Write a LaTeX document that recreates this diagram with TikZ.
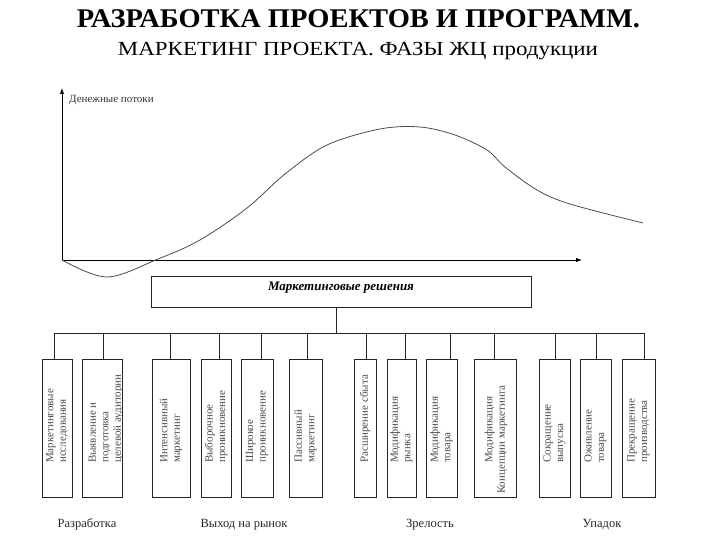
\documentclass[tikz,border=0pt]{standalone}
\usepackage{fontspec}
\setmainfont{Liberation Serif}
\usetikzlibrary{arrows.meta}
\begin{document}
\begin{tikzpicture}[x=1pt,y=-1pt,
  ax/.style={line width=0.9pt,-{Latex[length=6pt,width=4.5pt]}},
  curveline/.style={black!70,line width=0.8pt},
  stagebox/.style={draw=black!85,line width=0.9pt,minimum height=138pt,inner sep=0pt},
  stagetext/.style={rotate=90,anchor=west,inner sep=0pt,align=left,text=black!70,font=\fontsize{11}{12.5}\selectfont},
  phase/.style={anchor=base,text=black!85,font=\fontsize{12.5}{14}\selectfont},
  wire/.style={draw=black!85,line width=0.9pt}
]
\useasboundingbox (0,0) rectangle (720,540);

% title
\node[anchor=base,inner sep=0pt] (t1) at (358.5,28)
  {\resizebox{563pt}{\height}{\fontsize{27}{30}\selectfont\bfseries РАЗРАБОТКА ПРОЕКТОВ И ПРОГРАММ.}};
\node[anchor=base,inner sep=0pt] (t2) at (358,56)
  {\resizebox{480pt}{\height}{\fontsize{20}{24}\selectfont МАРКЕТИНГ ПРОЕКТА. ФАЗЫ ЖЦ продукции}};

% axes
\coordinate (O) at (62,260);
\coordinate (ytop) at (62,88);
\coordinate (xend) at (582,260);
\draw[ax] (O) -- (ytop);
\draw[ax] (O) -- (xend);
\node[anchor=base west,inner sep=0pt,text=black!80,font=\fontsize{11}{13}\selectfont] (ylab) at (69,103) {Денежные потоки};

% cash flow curve
\draw[curveline] plot[smooth,tension=0.55] coordinates {
  (62,260) (107,277) (158,259) (200,240) (247,208) (285,174)
  (327,145) (380,129) (420,127) (455,135) (487,150) (505,167)
  (537,190) (570,204) (643,223)};

% marketing decisions
\node[draw=black!85,line width=0.9pt,minimum width=380pt,minimum height=31pt,inner sep=0pt] (md) at (341,291.5) {};
\node[anchor=base,inner sep=0pt,font=\fontsize{13}{15}\selectfont\bfseries\itshape] (mdt) at (341,290) {Маркетинговые решения};

% bus
\coordinate (busL) at (54,333);
\coordinate (busR) at (644,333);
\draw[wire] (busL) -- (busR);
\draw[wire] ([xshift=-5pt]md.south) -- ([xshift=-5pt]md.south |- busL);

% stage boxes: name / center x / width / drop offset / text offset / text
\foreach \n/\cx/\w/\dx/\tx/\txt in {
  1/57/30/-3/0/{Маркетинговые\\исследования},
  2/102/40/1/4/{Выявление и\\подготовка\\целевой аудитории},
  3/171/38/-1/0/{Интенсивный\\маркетинг},
  4/216/30/3/0/{Выборочное\\проникновение},
  5/257/32/4/0/{Широкое\\проникновение},
  6/305.5/33/1.5/0/{Пассивный\\маркетинг},
  7/365/22/1/0/{Расширение сбыта},
  8/401.5/29/3.5/0/{Модификация\\рынка},
  9/441.5/31/8.5/0/{Модификация\\товара},
  11/554.5/31/0.5/0/{Сокращение\\выпуска},
  12/595.5/31/0.5/0/{Оживление\\товара},
  13/638.5/33/5.5/0/{Прекращение\\производства}} {
  \node[stagebox,minimum width=\w pt] (b\n) at (\cx,428) {};
  \node[stagetext] (s\n) at (\cx+\tx,463) {\txt};
  \draw[wire] ([xshift=\dx pt]b\n.north) -- ([xshift=\dx pt]b\n.north |- busL);
}
\node[stagebox,minimum width=42pt] (b10) at (495,428) {};
\node[stagetext] (s10) at (496,494) {\hspace*{31pt}Модификация\\Концепции маркетинга};
\draw[wire] ([xshift=-1pt]b10.north) -- ([xshift=-1pt]b10.north |- busL);

% phases
\node[phase] (p1) at (87,527) {Разработка};
\node[phase] (p2) at (244,527) {Выход на рынок};
\node[phase] (p3) at (430,527) {Зрелость};
\node[phase] (p4) at (602,527) {Упадок};
\end{tikzpicture}
\end{document}
